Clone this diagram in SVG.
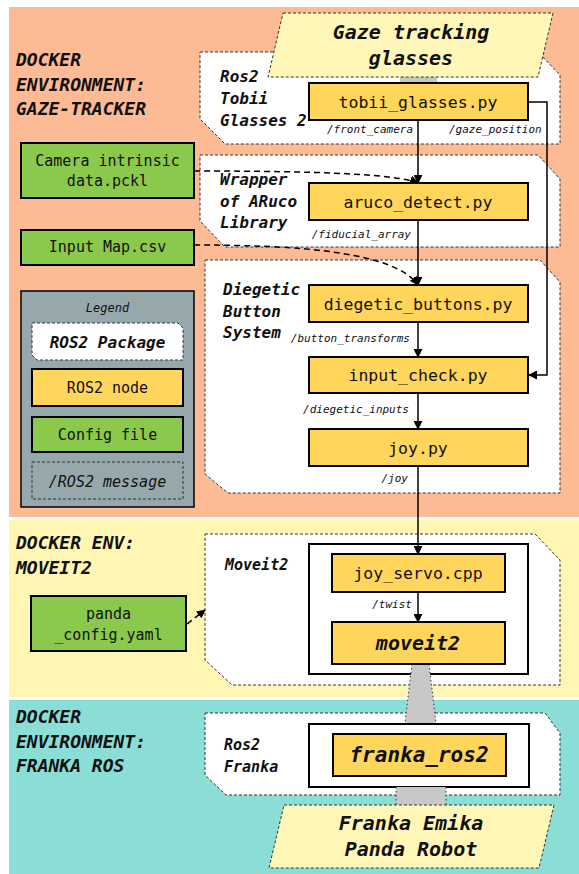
<svg xmlns="http://www.w3.org/2000/svg" width="579" height="874" viewBox="0 0 579 874">
<defs>
<marker id="arr" viewBox="0 0 10 10" refX="9" refY="5" markerWidth="9" markerHeight="9" markerUnits="userSpaceOnUse" orient="auto"><path d="M0,0 L10,5 L0,10 Z" fill="#000"/></marker>
<style>
text{font-family:"DejaVu Sans Mono","Liberation Mono",monospace;fill:#111}
.sec{font-size:18px;font-weight:bold;font-style:italic}
.pkgt{font-size:16px;font-weight:bold;font-style:italic}
.nt{font-size:16.5px;text-anchor:middle}
.lbl{font-size:11px;font-style:italic;text-anchor:end}
.cfgt{font-size:15px;text-anchor:middle}
.big{font-size:20px;font-weight:bold;font-style:italic;text-anchor:middle}
.pkg{fill:#fff;stroke:#333;stroke-width:1;stroke-dasharray:3 2}
.node{fill:#FFD55C;stroke:#000;stroke-width:2}
.cfg{fill:#8BC94C;stroke:#000;stroke-width:2}
.outer{fill:#fff;stroke:#000;stroke-width:2}
.para{fill:#FFF7B8;stroke:#333;stroke-width:1;stroke-dasharray:3 2}
.grey{fill:#C8C8C8;stroke:none}
.gedge{stroke:#333;stroke-width:1;stroke-dasharray:1.5 2.5;fill:none}
.line{fill:none;stroke:#000;stroke-width:1.5}
.dash{fill:none;stroke:#000;stroke-width:1.5;stroke-dasharray:6 4}
</style>
</defs>

<g id="sections">
<rect x="9" y="7" width="570" height="510" fill="#FDBB95"/>
<rect x="9" y="520" width="570" height="177" fill="#FFF6B4"/>
<rect x="9" y="700" width="570" height="174" fill="#8ADED5"/>
<text class="sec" x="16" y="66">DOCKER</text>
<text class="sec" x="16" y="91">ENVIRONMENT:</text>
<text class="sec" x="16" y="115">GAZE-TRACKER</text>
<text class="sec" x="16" y="549">DOCKER ENV:</text>
<text class="sec" x="16" y="574">MOVEIT2</text>
<text class="sec" x="16" y="723">DOCKER</text>
<text class="sec" x="16" y="748">ENVIRONMENT:</text>
<text class="sec" x="16" y="772">FRANKA ROS</text>
</g>

<g id="pkg-tobii">
<path class="pkg" d="M200,52 H538 L560,75 V144 H225 L200,119 Z"/>
<text class="pkgt" x="220" y="82">Ros2</text>
<text class="pkgt" x="220" y="104">Tobii</text>
<text class="pkgt" x="220" y="126">Glasses 2</text>
</g>
<g id="pkg-aruco">
<path class="pkg" d="M200,155 H538 L560,179 V247 H225 L200,221 Z"/>
<text class="pkgt" x="220" y="185">Wrapper</text>
<text class="pkgt" x="220" y="207">of ARuco</text>
<text class="pkgt" x="220" y="228">Library</text>
</g>
<g id="pkg-diegetic">
<path class="pkg" d="M205,260 H540 L560,282 V493 H228 L205,474 Z"/>
<text class="pkgt" x="223" y="295">Diegetic</text>
<text class="pkgt" x="223" y="317">Button</text>
<text class="pkgt" x="223" y="338">System</text>
</g>
<g id="pkg-moveit2">
<path class="pkg" d="M205,534 H535 L560,560 V685 H232 L205,660 Z"/>
<text class="pkgt" x="225" y="570" style="font-size:15px">Moveit2</text>
<rect class="outer" x="309" y="544" width="219" height="130"/>
</g>
<g id="pkg-franka">
<path class="pkg" d="M205,713 H545 L560,733 V795 H226 L205,775 Z"/>
<text class="pkgt" x="224" y="750" style="font-size:15px">Ros2</text>
<text class="pkgt" x="224" y="772" style="font-size:15px">Franka</text>
<rect class="outer" x="309" y="724" width="220" height="63"/>
</g>

<g id="physical-links">
<rect class="grey" x="400" y="74" width="37" height="10"/>
<path class="grey" d="M412,664 H429 L436,723 H405 Z"/>
<path class="gedge" d="M412,664 L405,723 M429,664 L436,723"/>
<rect class="grey" x="396" y="787" width="50" height="18"/>
<path class="gedge" d="M396,787 V805 M446,787 V805"/>
</g>

<g id="glasses">
<path class="para" d="M283,13 H553 L538,77 H268 Z"/>
<text class="big" x="411" y="39">Gaze tracking</text>
<text class="big" x="411" y="65">glasses</text>
</g>
<g id="robot">
<path class="para" d="M284,805 H554 L539,868 H269 Z"/>
<text class="big" x="411" y="830">Franka Emika</text>
<text class="big" x="411" y="856">Panda Robot</text>
</g>

<g id="connectors">
<line class="line" x1="418" y1="120" x2="418" y2="183" marker-end="url(#arr)"/>
<polyline class="line" points="528,102 547,102 547,375 529,375" marker-end="url(#arr)"/>
<line class="line" x1="418" y1="220" x2="418" y2="285" marker-end="url(#arr)"/>
<line class="line" x1="418" y1="322" x2="418" y2="357" marker-end="url(#arr)"/>
<line class="line" x1="418" y1="393" x2="418" y2="429" marker-end="url(#arr)"/>
<line class="line" x1="418" y1="466" x2="418" y2="554" marker-end="url(#arr)"/>
<line class="line" x1="418" y1="592" x2="418" y2="622" marker-end="url(#arr)"/>
<path class="dash" d="M194,171 C320,171 395,174 418,183" marker-end="url(#arr)"/>
<path class="dash" d="M194,245 C300,245 395,252 418,285" marker-end="url(#arr)"/>
<path class="dash" d="M187,624 L205,610" marker-end="url(#arr)"/>
<text class="lbl" x="413" y="133">/front_camera</text>
<text class="lbl" x="449" y="133" style="text-anchor:start">/gaze_position</text>
<text class="lbl" x="411" y="238">/fiducial_array</text>
<text class="lbl" x="410" y="342">/button_transforms</text>
<text class="lbl" x="409" y="413">/diegetic_inputs</text>
<text class="lbl" x="408" y="482">/joy</text>
<text class="lbl" x="412" y="608">/twist</text>
</g>

<g id="tobii_glasses"><rect class="node" x="309" y="83" width="219" height="37"/><text class="nt" x="418" y="108">tobii_glasses.py</text></g>
<g id="aruco_detect"><rect class="node" x="309" y="183" width="219" height="37"/><text class="nt" x="418" y="208">aruco_detect.py</text></g>
<g id="diegetic_buttons"><rect class="node" x="309" y="285" width="219" height="37"/><text class="nt" x="418" y="310">diegetic_buttons.py</text></g>
<g id="input_check"><rect class="node" x="309" y="357" width="219" height="36"/><text class="nt" x="418" y="381">input_check.py</text></g>
<g id="joy"><rect class="node" x="309" y="429" width="219" height="37"/><text class="nt" x="418" y="454">joy.py</text></g>
<g id="joy_servo"><rect class="node" x="332" y="554" width="173" height="38"/><text class="nt" x="418" y="579">joy_servo.cpp</text></g>
<g id="moveit2"><rect class="node" x="332" y="622" width="173" height="42"/><text class="big" x="418" y="650">moveit2</text></g>
<g id="franka_ros2"><rect class="node" x="333" y="734" width="173" height="42"/><text class="big" x="419" y="762" style="font-size:21px">franka_ros2</text></g>

<g id="camera-intrinsic"><rect class="cfg" x="21" y="143" width="173" height="55"/><text class="cfgt" x="107.5" y="166">Camera intrinsic</text><text class="cfgt" x="107.5" y="186">data.pckl</text></g>
<g id="input-map"><rect class="cfg" x="21" y="230" width="173" height="35"/><text class="cfgt" x="107.5" y="252">Input Map.csv</text></g>
<g id="panda-config"><rect class="cfg" x="31" y="596" width="155" height="55"/><text class="cfgt" x="108.5" y="619">panda</text><text class="cfgt" x="108.5" y="640">_config.yaml</text></g>

<g id="legend">
<rect x="21" y="291" width="173" height="216" fill="#97A8AD" stroke="#000" stroke-width="1.5"/>
<text x="107.5" y="312" style="font-size:12px;font-style:italic;text-anchor:middle">Legend</text>
<path class="pkg" d="M32,323 H178 L183,328 V360 H37 L32,355 Z"/>
<text class="pkgt" x="107.5" y="348" style="text-anchor:middle">ROS2 Package</text>
<rect class="node" x="32" y="369" width="151" height="37"/>
<text x="107.5" y="393" style="font-size:15px;text-anchor:middle">ROS2 node</text>
<rect class="cfg" x="32" y="417" width="151" height="35"/>
<text x="107.5" y="440" style="font-size:15px;text-anchor:middle">Config file</text>
<rect x="32" y="462" width="151" height="37" fill="none" stroke="#333" stroke-width="1" stroke-dasharray="3 2"/>
<text x="107.5" y="487" style="font-size:15px;font-style:italic;text-anchor:middle">/ROS2 message</text>
</g>
</svg>
